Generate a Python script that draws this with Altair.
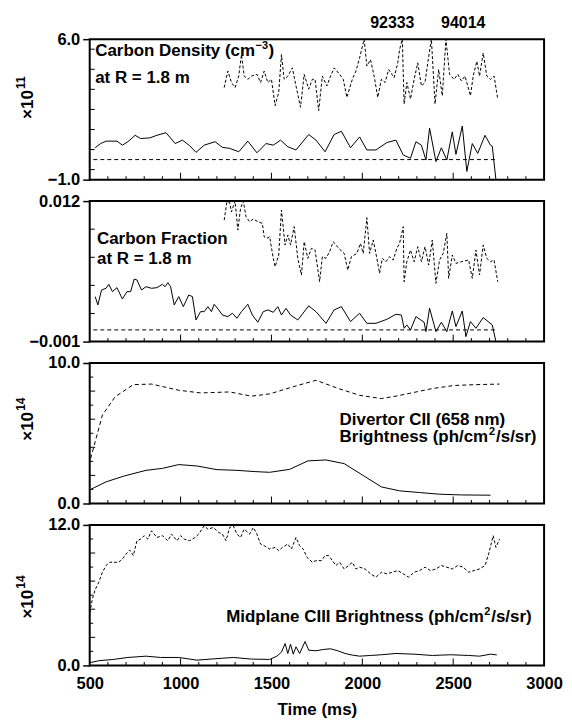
import altair as alt
import pandas as pd

# ---------------- data ----------------
# Panel 1: Carbon density at R = 1.8 m (x1e11 cm^-3)
p1_solid_t = [530,560,590,650,680,710,750,780,830,870,920,970,1010,1050,1085,1130,1190,1230,1270,1320,1370,1420,1470,1510,1550,1590,1635,1705,1745,1795,1845,1885,1935,1985,2025,2075,2135,2185,2225,2265,2295,2325,2350,2370,2405,2435,2465,2495,2515,2550,2575,2605,2635,2675,2705,2715,2735]
p1_solid_v = [0.59,0.80,0.92,0.92,0.72,0.89,1.21,1.05,1.08,1.21,1.34,0.80,0.97,0.69,0.36,0.72,0.89,0.61,0.56,0.39,0.92,0.34,0.80,0.72,0.97,0.64,0.48,1.25,0.97,0.39,1.25,1.41,0.59,1.13,0.48,0.48,0.85,0.97,0.23,0.07,0.89,0.72,-0.02,1.57,-0.10,0.59,-0.02,1.38,0.26,1.67,-0.59,0.80,0.31,1.21,0.72,0.67,-1.0]
p1_dash_t = [1240,1260,1280,1300,1320,1335,1350,1370,1390,1420,1440,1460,1480,1500,1520,1540,1555,1570,1590,1615,1635,1660,1680,1705,1725,1740,1760,1780,1805,1825,1845,1875,1895,1915,1945,1965,1985,2010,2025,2045,2065,2085,2105,2125,2145,2175,2195,2205,2220,2230,2245,2265,2285,2305,2325,2345,2360,2380,2400,2420,2440,2460,2480,2505,2525,2545,2565,2595,2610,2630,2645,2665,2685,2705,2725,2745]
p1_dash_v = [3.59,4.41,3.84,3.59,4.16,5.23,4.16,4.00,4.16,4.25,3.84,4.41,3.84,4.00,2.69,3.34,5.23,4.00,4.16,4.57,3.67,2.61,4.25,3.51,4.00,4.00,2.44,4.16,3.67,4.16,4.57,4.25,4.00,3.10,4.00,4.41,5.07,6.00,4.66,4.98,4.16,3.10,4.00,3.84,4.49,4.08,4.82,5.48,6.00,2.77,3.84,3.02,4.00,4.82,3.67,3.84,4.82,6.00,2.77,4.49,3.18,6.00,4.25,4.00,4.25,3.92,4.16,3.18,4.16,4.90,4.16,5.31,4.16,4.00,4.16,3.02]
p1_base_t = [520, 2740]
p1_base_v = [0.0, 0.0]

# Panel 2: Carbon fraction at R = 1.8 m (values in units of 1e-3)
p2_solid_t = [530,545,565,590,605,625,650,680,705,725,745,760,785,810,840,870,900,915,930,945,965,990,1015,1045,1065,1085,1110,1130,1150,1170,1185,1210,1230,1260,1285,1310,1335,1370,1395,1425,1455,1480,1510,1535,1555,1580,1605,1645,1705,1745,1800,1845,1885,1935,1985,2025,2075,2135,2185,2215,2230,2245,2265,2295,2340,2350,2370,2405,2435,2465,2495,2515,2550,2570,2595,2625,2665,2715,2735]
p2_solid_milli = [3.16,2.39,3.77,3.93,4.30,3.62,3.99,2.94,3.62,3.62,4.79,4.70,3.77,4.08,3.93,3.99,4.30,4.08,4.45,4.08,2.39,3.16,2.23,3.31,3.16,1.00,1.77,1.77,2.23,1.77,2.45,1.93,1.46,1.31,1.62,1.16,1.77,2.45,1.46,0.79,1.77,1.93,1.71,2.23,1.46,2.08,1.46,1.00,2.30,1.77,0.69,1.93,2.23,0.85,1.62,0.69,0.69,1.06,1.53,1.46,0.23,0.54,0.08,1.31,0.79,-0.08,2.08,-0.08,0.79,-0.08,1.83,0.39,1.83,-0.54,0.85,0.23,1.22,0.54,-1.0]
p2_dash_t = [1240,1255,1270,1280,1300,1315,1330,1345,1360,1380,1400,1425,1450,1460,1475,1490,1510,1520,1540,1555,1575,1590,1605,1625,1645,1665,1680,1700,1720,1740,1765,1780,1800,1820,1840,1870,1900,1920,1940,1970,1990,2005,2025,2040,2060,2080,2095,2110,2130,2150,2170,2190,2205,2225,2230,2245,2265,2285,2305,2325,2345,2365,2385,2405,2425,2445,2465,2475,2495,2515,2545,2585,2605,2625,2645,2665,2685,2705,2725,2745]
p2_dash_milli = [10.24,11.94,11.88,11.01,12.0,9.32,11.32,12.0,10.55,10.09,10.34,10.09,9.94,8.70,8.55,8.70,6.70,5.93,7.01,11.17,7.93,8.86,7.93,9.63,6.70,5.16,8.24,6.70,7.63,7.47,4.54,6.86,6.70,7.32,8.24,7.63,7.16,5.62,6.86,7.16,8.09,7.16,10.46,7.16,8.40,6.70,5.31,6.70,6.39,6.86,6.55,7.63,8.09,9.63,4.54,6.39,7.47,6.39,7.78,6.39,7.78,6.08,8.40,4.39,6.55,7.16,9.01,4.85,7.01,6.24,6.39,6.55,4.85,7.47,5.16,7.93,6.70,6.39,6.55,4.54]
p2_base_t = [520, 2740]
p2_base_milli = [0.08, 0.08]

# Panel 3: Divertor CII brightness (x1e14)
p3_dash_t = [505,570,640,740,840,990,1110,1270,1390,1490,1630,1745,1865,1985,2105,2185,2385,2505,2625,2755]
p3_dash_v = [3.2,6.3,7.6,8.46,8.5,8.06,7.87,7.94,7.64,7.8,8.35,8.77,8.2,7.7,7.47,7.64,8.18,8.4,8.46,8.5]
p3_solid_t = [505,590,690,810,900,990,1090,1200,1310,1410,1490,1600,1700,1800,1900,2000,2105,2205,2315,2425,2545,2705]
p3_solid_v = [1.0,1.54,1.96,2.36,2.5,2.77,2.67,2.41,2.36,2.27,2.22,2.43,3.03,3.1,2.84,2.03,1.18,0.9,0.78,0.66,0.61,0.59]

# Panel 4: Midplane CIII brightness (x1e14)
p4_dash_t = [500,515,530,550,570,590,610,630,660,680,700,720,740,760,780,800,820,840,870,900,930,950,980,1000,1020,1050,1080,1100,1130,1150,1180,1210,1230,1250,1270,1290,1310,1330,1350,1380,1400,1420,1440,1460,1490,1520,1540,1560,1590,1610,1635,1655,1675,1695,1725,1745,1775,1795,1815,1835,1855,1875,1900,1925,1945,1965,1985,2015,2045,2075,2105,2135,2165,2195,2225,2255,2285,2315,2345,2375,2405,2435,2465,2495,2525,2555,2585,2615,2645,2675,2695,2720,2735,2755]
p4_dash_v = [4.48,5.69,6.46,7.11,7.96,8.53,8.81,8.81,8.81,9.09,9.52,9.86,9.38,10.65,10.79,11.08,10.79,11.50,10.93,11.08,10.65,11.22,10.65,11.08,10.79,10.65,10.93,11.22,11.93,11.64,11.78,11.36,11.22,10.65,11.78,11.93,11.22,10.93,11.64,11.22,11.78,11.22,10.37,10.23,9.94,10.08,9.80,10.08,10.37,9.94,10.93,10.23,9.94,9.24,8.81,8.95,8.95,9.38,9.38,8.95,8.53,8.81,8.24,8.53,8.81,8.24,8.39,8.24,7.82,7.54,7.96,7.82,7.96,8.10,7.82,7.54,7.96,8.10,8.39,8.10,8.24,8.53,8.39,8.24,8.53,8.39,7.96,8.10,8.24,8.53,9.52,11.08,10.08,10.79]
p4_solid_t = [500,550,630,710,810,890,990,1090,1190,1290,1390,1490,1530,1555,1575,1590,1605,1620,1635,1655,1685,1705,1745,1785,1825,1865,1905,1945,1985,2045,2105,2185,2285,2385,2485,2585,2645,2705,2740]
p4_solid_v = [0.23,0.40,0.51,0.68,0.79,0.68,0.68,0.45,0.57,0.68,0.54,0.51,0.79,1.13,1.87,1.02,1.81,0.96,1.59,1.02,2.04,1.30,1.25,1.36,1.42,1.25,1.02,0.88,0.79,0.85,0.91,1.02,0.96,0.85,0.91,0.85,0.79,0.96,0.9]

# tick positions and labels
x_labels = [500, 1000, 1500, 2000, 2500, 3000]
x_ticks_major = [1000, 1500, 2000, 2500]
x_ticks_minor = [t for t in range(600, 3000, 100) if t % 500 != 0]
p1_yticks = [5.5, 4.5, 3.5, 2.5, 1.5, 0.5, -0.5]
p2_yticks = [0.0016, 0.0042, 0.0068, 0.0094]
p3_yticks_major = [2, 4, 6, 8]
p3_yticks_minor = [1, 3, 5, 7, 9]
p4_yticks_major = [2.4, 4.8, 7.2, 9.6]
p4_yticks_minor = [1.2, 3.6, 6.0, 8.4, 10.8]

# annotations: (text, anchor time, anchor value, dx, dy, font size)
p1_notes = [("Carbon Density (cm", 530, 5.18, 0, 0, 17),
            ("\u22123", 530, 5.18, 161, -7, 11),
            (")", 530, 5.18, 174, 0, 17),
            ("at R = 1.8 m", 530, 3.84, 0, 0, 17)]
p2_notes = [("Carbon Fraction", 540, 0.0080, 0, 0, 17),
            ("at R = 1.8 m", 540, 0.00615, 0, 0, 17)]
p3_notes = [("Divertor CII (658 nm)", 1875, 5.58, 0, 0, 17),
            ("Brightness (ph/cm", 1875, 4.40, 0, 0, 17),
            ("2", 1875, 4.40, 150, -7, 11),
            ("/s/sr)", 1875, 4.40, 157, 0, 17)]
p4_notes = [("Midplane CIII Brightness (ph/cm", 1251, 3.71, 0, 0, 17),
            ("2", 1251, 3.71, 259, -7, 11),
            ("/s/sr)", 1251, 3.71, 266, 0, 17)]
shot_labels = ["92333", "94014"]
shot_label_t = [2165, 2555]
exp_11 = ["\u00d710", "11"]
exp_14 = ["\u00d710", "14"]

# ---------------- chart ----------------
W, H = 456, 141
FONT = "Liberation Sans"
xscale = alt.Scale(domain=[500, 3000], nice=False, zero=False)


def x_enc(bottom):
    if bottom:
        return alt.X("t:Q", scale=xscale,
                     axis=alt.Axis(values=x_labels, format="d", ticks=False, domain=False,
                                   grid=False, labelPadding=10, labelFontSize=16.5,
                                   labelFontWeight="bold", labelColor="black", labelFlush=False,
                                   title="Time (ms)", titleFontSize=17, titleFontWeight="bold",
                                   titleColor="black", titlePadding=10))
    return alt.X("t:Q", scale=xscale, axis=None)


def y_enc(lo, hi, fmt):
    return alt.Y("v:Q", scale=alt.Scale(domain=[lo, hi], nice=False, zero=False),
                 axis=alt.Axis(values=[lo, hi], format=fmt, tickSize=7, tickColor="black",
                               tickWidth=1.5, labelPadding=3, domain=False, grid=False,
                               labelFontSize=16.5, labelFontWeight="bold", labelColor="black",
                               labelFlush=False, title=""))


def line(t, v, xe, ye, dash=None, width=1.0):
    df = pd.DataFrame({"t": t, "v": v})
    kw = dict(color="black", strokeWidth=width, clip=True)
    if dash:
        kw["strokeDash"] = dash
    return alt.Chart(df).mark_line(**kw).encode(x=xe, y=ye)


def yticks(vals, length, ye):
    df = pd.DataFrame({"v": vals})
    return alt.Chart(df).mark_rule(color="black", strokeWidth=1).encode(
        y=ye, x=alt.value(0), x2=alt.value(length))


def xticks(vals, length, xe):
    df = pd.DataFrame({"t": vals})
    return alt.Chart(df).mark_rule(color="black", strokeWidth=1).encode(
        x=xe, y=alt.value(H), y2=alt.value(H - length))


def notes(items, xe, ye):
    layers = []
    for label, t, v, dx, dy, size in items:
        df = pd.DataFrame({"t": [t], "v": [v], "label": [label]})
        layers.append(alt.Chart(df).mark_text(
            align="left", baseline="alphabetic", fontSize=size, fontWeight="bold",
            font=FONT, color="black", dx=dx, dy=dy).encode(x=xe, y=ye, text="label:N"))
    return layers


def exponent(parts, bottom_px):
    # rotated "x10^n" label to the left of the panel
    base = alt.Chart(pd.DataFrame({"label": [parts[0]]})).mark_text(
        angle=270, align="left", baseline="middle", fontSize=17, fontWeight="bold",
        font=FONT, color="black").encode(x=alt.value(-62), y=alt.value(bottom_px),
                                          text="label:N")
    sup = alt.Chart(pd.DataFrame({"label": [parts[1]]})).mark_text(
        angle=270, align="left", baseline="middle", fontSize=12, fontWeight="bold",
        font=FONT, color="black").encode(x=alt.value(-69), y=alt.value(bottom_px - 30),
                                          text="label:N")
    return [base, sup]


def common(xe, ye, ymaj, ymaj_len, ymin=None):
    layers = [xticks(x_ticks_minor, 3.5, xe), xticks(x_ticks_major, 7, xe),
              yticks(ymaj, ymaj_len, ye)]
    if ymin:
        layers.append(yticks(ymin, 3.5, ye))
    return layers


# panel 1
x1 = x_enc(False)
y1 = y_enc(-1.0, 6.0, ".1f")
shots = alt.Chart(pd.DataFrame({"t": shot_label_t, "label": shot_labels})).mark_text(
    align="center", baseline="alphabetic", fontSize=16, fontWeight="bold", font=FONT,
    color="black").encode(x=x1, y=alt.value(-11), text="label:N")
p1 = alt.layer(
    line(p1_solid_t, p1_solid_v, x1, y1),
    line(p1_dash_t, p1_dash_v, x1, y1, dash=[3, 2]),
    line(p1_base_t, p1_base_v, x1, y1, dash=[4, 3]),
    *common(x1, y1, p1_yticks, 5),
    *notes(p1_notes, x1, y1),
    *exponent(exp_11, 80),
    shots,
).properties(width=W, height=H)

# panel 2
x2 = x_enc(False)
y2 = y_enc(-0.001, 0.012, ".3f")
p2 = alt.layer(
    line(p2_solid_t, [v / 1000 for v in p2_solid_milli], x2, y2),
    line(p2_dash_t, [v / 1000 for v in p2_dash_milli], x2, y2, dash=[3, 2]),
    line(p2_base_t, [v / 1000 for v in p2_base_milli], x2, y2, dash=[4, 3]),
    *common(x2, y2, p2_yticks, 5),
    *notes(p2_notes, x2, y2),
).properties(width=W, height=H)

# panel 3
x3 = x_enc(False)
y3 = y_enc(0.0, 10.0, ".1f")
p3 = alt.layer(
    line(p3_solid_t, p3_solid_v, x3, y3),
    line(p3_dash_t, p3_dash_v, x3, y3, dash=[4, 3]),
    *common(x3, y3, p3_yticks_major, 5.5, p3_yticks_minor),
    *notes(p3_notes, x3, y3),
    *exponent(exp_14, 78),
).properties(width=W, height=H)

# panel 4
x4 = x_enc(True)
y4 = y_enc(0.0, 12.0, ".1f")
p4 = alt.layer(
    line(p4_solid_t, p4_solid_v, x4, y4),
    line(p4_dash_t, p4_dash_v, x4, y4, dash=[3, 2]),
    *common(x4, y4, p4_yticks_major, 5.5, p4_yticks_minor),
    *notes(p4_notes, x4, y4),
    *exponent(exp_14, 94),
).properties(width=W, height=H)

chart = alt.vconcat(p1, p2, p3, p4, spacing=21.5, bounds="flush").properties(
    padding={"left": 6, "top": 5, "right": 0, "bottom": 0}
).configure(font=FONT).configure_axis(labelFont=FONT, titleFont=FONT).configure_view(
    stroke="black", strokeWidth=2)

chart.save("out.html", embed_options={"renderer": "svg", "actions": False})
